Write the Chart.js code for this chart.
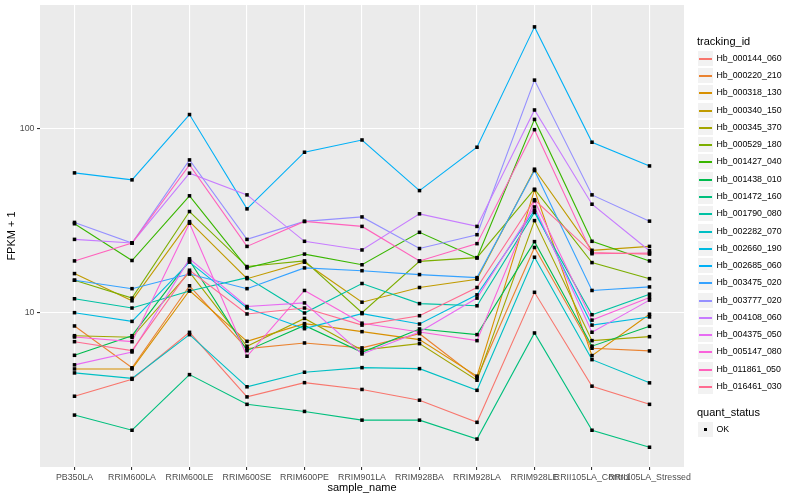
<!DOCTYPE html>
<html lang="en">
<head>
<meta charset="UTF-8">
<title>FPKM + 1 by sample_name</title>
<script src="https://cdn.jsdelivr.net/npm/chart.js"></script>
<style>
    body { margin: 0; background: #fff; font-family: "Liberation Sans", Arial, sans-serif; }
    #wrap { position: relative; width: 800px; height: 500px; }
    #legend div { position: absolute; white-space: nowrap; }
    .ltitle { font-size: 11px; color: #000; }
    .lkey { background: #f2f2f2; box-sizing: border-box; border: 1px solid #fff; }
    .ltext { font-size: 8.8px; color: #000; }
</style>
</head>
<body>
<div id="wrap">
    <canvas id="chart" width="800" height="500"></canvas>
    <div id="legend"></div>
</div>
<script>
// categories
const samples = ["PB350LA", "RRIM600LA", "RRIM600LE", "RRIM600SE", "RRIM600PE", "RRIM901LA",
                 "RRIM928BA", "RRIM928LA", "RRIM928LE", "RRII105LA_Control", "RRII105LA_Stressed"];

// FPKM + 1 per transcript, one value per sample
const hb_000144_060 = [3.52, 4.35, 7.82, 3.49, 4.17, 3.83, 3.35, 2.54, 12.9, 3.99, 3.18];
const hb_000220_210 = [8.47, 5.02, 14.0, 6.38, 6.85, 6.44, 7.69, 4.43, 22.6, 6.41, 6.20];
const hb_000318_130 = [4.95, 4.95, 13.2, 6.99, 8.72, 7.89, 7.14, 4.52, 46.4, 5.85, 9.81];
const hb_000340_150 = [16.3, 11.6, 31.2, 15.3, 18.8, 11.4, 13.7, 15.2, 60.1, 21.8, 22.9];
const hb_000345_370 = [7.50, 7.35, 16.6, 6.57, 9.31, 6.26, 6.79, 4.30, 31.6, 7.05, 7.41];
const hb_000529_180 = [15.0, 12.0, 35.4, 17.8, 19.1, 10.0, 19.0, 19.9, 46.8, 18.7, 15.3];
const hb_001427_040 = [30.4, 19.2, 43.1, 17.5, 20.8, 18.2, 27.3, 19.8, 112, 24.4, 19.1];
const hb_001438_010 = [5.87, 7.50, 19.2, 6.22, 8.53, 6.09, 8.16, 7.60, 24.3, 6.58, 8.43];
const hb_001472_160 = [2.78, 2.30, 4.61, 3.18, 2.91, 2.61, 2.61, 2.06, 7.76, 2.30, 1.86];
const hb_001790_080 = [11.9, 10.6, 13.1, 15.5, 9.96, 14.4, 11.2, 10.9, 35.0, 9.75, 12.6];
const hb_002282_070 = [4.71, 4.40, 7.60, 3.96, 4.75, 5.03, 4.97, 3.79, 20.0, 5.56, 4.16];
const hb_002660_190 = [10.0, 8.97, 18.8, 10.6, 8.19, 9.88, 8.68, 12.5, 35.9, 8.56, 9.48];
const hb_002685_060 = [57.4, 52.6, 119, 36.6, 74.3, 86.6, 46.0, 79.1, 356, 84.2, 62.6];
const hb_003475_020 = [15.0, 13.5, 16.2, 13.5, 17.5, 16.9, 16.1, 15.5, 59.1, 13.2, 13.8];
const hb_003777_020 = [30.9, 23.9, 67.5, 25.0, 31.3, 33.1, 22.3, 26.5, 183, 43.6, 31.4];
const hb_004108_060 = [25.0, 23.9, 57.2, 43.6, 24.4, 21.9, 34.4, 29.4, 126, 38.8, 21.7];
const hb_004375_050 = [5.21, 6.12, 19.6, 10.8, 11.3, 5.97, 7.86, 12.0, 37.5, 7.83, 11.7];
const hb_005147_080 = [7.38, 6.96, 30.6, 5.80, 13.2, 8.77, 7.86, 7.05, 40.5, 9.11, 12.1];
const hb_011861_050 = [19.1, 23.9, 63.4, 22.9, 31.3, 29.4, 19.1, 23.7, 98.5, 20.9, 21.1];
const hb_016461_030 = [6.96, 6.22, 17.0, 9.84, 10.6, 8.56, 9.63, 13.7, 41.0, 21.2, 20.8];

const trackingIds = ["Hb_000144_060", "Hb_000220_210", "Hb_000318_130", "Hb_000340_150", "Hb_000345_370",
                     "Hb_000529_180", "Hb_001427_040", "Hb_001438_010", "Hb_001472_160", "Hb_001790_080",
                     "Hb_002282_070", "Hb_002660_190", "Hb_002685_060", "Hb_003475_020", "Hb_003777_020",
                     "Hb_004108_060", "Hb_004375_050", "Hb_005147_080", "Hb_011861_050", "Hb_016461_030"];
const seriesValues = [hb_000144_060, hb_000220_210, hb_000318_130, hb_000340_150, hb_000345_370,
                      hb_000529_180, hb_001427_040, hb_001438_010, hb_001472_160, hb_001790_080,
                      hb_002282_070, hb_002660_190, hb_002685_060, hb_003475_020, hb_003777_020,
                      hb_004108_060, hb_004375_050, hb_005147_080, hb_011861_050, hb_016461_030];
const quantStatus = ["OK"];

// y axis labels (log10 scale)
const yTickLabels = [10, 100];

// ggplot hue palette, 20 levels
const lineColors = ["#F8766D", "#EA8331", "#D89000", "#C09B00", "#A3A500", "#7CAE00", "#39B600",
                    "#00BB4E", "#00BF7D", "#00C1A3", "#00BFC4", "#00BAE0", "#00B0F6", "#35A2FF",
                    "#9590FF", "#C77CFF", "#E76BF3", "#FA62DB", "#FF62BC", "#FF6C91"];

Chart.defaults.font.family = "'Liberation Sans', Arial, sans-serif";

// half-decade minor grid lines, like ggplot
const minorBreaks = [Math.sqrt(10), Math.sqrt(1000), Math.sqrt(100000)];
const yBreaks = [...minorBreaks, ...yTickLabels].sort((a, b) => a - b);
const isLabelled = v => yTickLabels.some(t => Math.abs(t - v) < 1e-6);

const lineSets = seriesValues.map((vals, k) => ({
    label: trackingIds[k],
    data: vals.map((v, i) => ({x: i, y: v})),
    borderColor: lineColors[k],
    borderWidth: 1.1,
    pointRadius: 0,
    fill: false,
    tension: 0,
    order: seriesValues.length - k
}));

const pointSet = {
    label: quantStatus[0],
    type: 'scatter',
    data: seriesValues.flatMap(vals => vals.map((v, i) => ({x: i, y: v}))),
    pointStyle: 'rect',
    pointRadius: 2.5,
    backgroundColor: '#000',
    borderWidth: 0,
    order: 0
};

const panelBg = {
    id: 'panelBg',
    beforeDraw(chart) {
        const {ctx, chartArea: a} = chart;
        ctx.save();
        ctx.fillStyle = '#ebebeb';
        ctx.fillRect(a.left, a.top, a.right - a.left, a.bottom - a.top);
        ctx.restore();
    }
};

new Chart(document.getElementById('chart'), {
    type: 'line',
    data: { datasets: [...lineSets, pointSet] },
    plugins: [panelBg],
    options: {
        responsive: false,
        animation: false,
        layout: { padding: { top: 5, right: 116, left: 0, bottom: 0 } },
        plugins: { legend: { display: false }, tooltip: { enabled: false } },
        scales: {
            x: {
                type: 'linear',
                min: -0.6,
                max: samples.length - 0.4,
                afterBuildTicks: s => { s.ticks = samples.map((_, i) => ({value: i})); },
                afterFit: s => { s.height = 33; s.paddingLeft = 0; s.paddingRight = 0; },
                grid: { color: '#fff', lineWidth: 1.1, tickLength: 3, tickColor: '#333' },
                border: { display: false },
                ticks: {
                    autoSkip: false, maxRotation: 0, minRotation: 0, padding: 2.5,
                    color: '#4d4d4d', font: { size: 8.8 },
                    callback: v => samples[v]
                },
                title: { display: true, text: 'sample_name', color: '#000', font: { size: 11 }, padding: { top: 0, bottom: 5 } }
            },
            y: {
                type: 'logarithmic',
                min: 1.453,
                max: 468,
                afterBuildTicks: s => { s.ticks = yBreaks.map(v => ({value: v})); },
                afterFit: s => { s.width = 40; s.paddingTop = 0; s.paddingBottom = 0; },
                grid: {
                    color: '#fff',
                    lineWidth: c => isLabelled(c.tick.value) ? 1.1 : 0.55,
                    tickLength: 3,
                    tickColor: c => isLabelled(c.tick.value) ? '#333' : 'rgba(0,0,0,0)'
                },
                border: { display: false },
                ticks: {
                    padding: 2.5, color: '#4d4d4d', font: { size: 8.8 },
                    callback: v => isLabelled(v) ? String(Math.round(v)) : null
                },
                title: { display: true, text: 'FPKM + 1', color: '#000', font: { size: 11 }, padding: { top: 5, bottom: 0 } }
            }
        }
    }
});

// legend, ggplot style
const legend = document.getElementById('legend');
function put(cls, left, top, w, h, text) {
    const d = document.createElement('div');
    d.className = cls;
    d.style.left = left + 'px';
    d.style.top = top + 'px';
    if (w) d.style.width = w + 'px';
    if (h) { d.style.height = h + 'px'; d.style.lineHeight = h + 'px'; }
    if (text) d.textContent = text;
    legend.appendChild(d);
    return d;
}
const keySize = 17;
const keyStep = 17.28;
put('ltitle', 697, 33.5, 0, 14, 'tracking_id');
trackingIds.forEach((id, k) => {
    const cy = Math.round(57.7 + k * keyStep);
    const key = put('lkey', 697, cy - 8, keySize, keySize);
    const ln = document.createElement('div');
    ln.style.left = '1px';
    ln.style.width = '13px';
    ln.style.top = '6.5px';
    ln.style.height = '2px';
    ln.style.backgroundColor = lineColors[k];
    key.appendChild(ln);
    put('ltext', 716.5, cy - 6, 0, 12, id);
});
put('ltitle', 697, 405.3, 0, 14, 'quant_status');
const okKey = put('lkey', 697, 421, keySize, keySize);
const sq = document.createElement('div');
sq.style.cssText = 'left:6px;top:6px;width:3px;height:3px;background:#000;';
okKey.appendChild(sq);
put('ltext', 716.5, 423, 0, 12, quantStatus[0]);
</script>
</body>
</html>
